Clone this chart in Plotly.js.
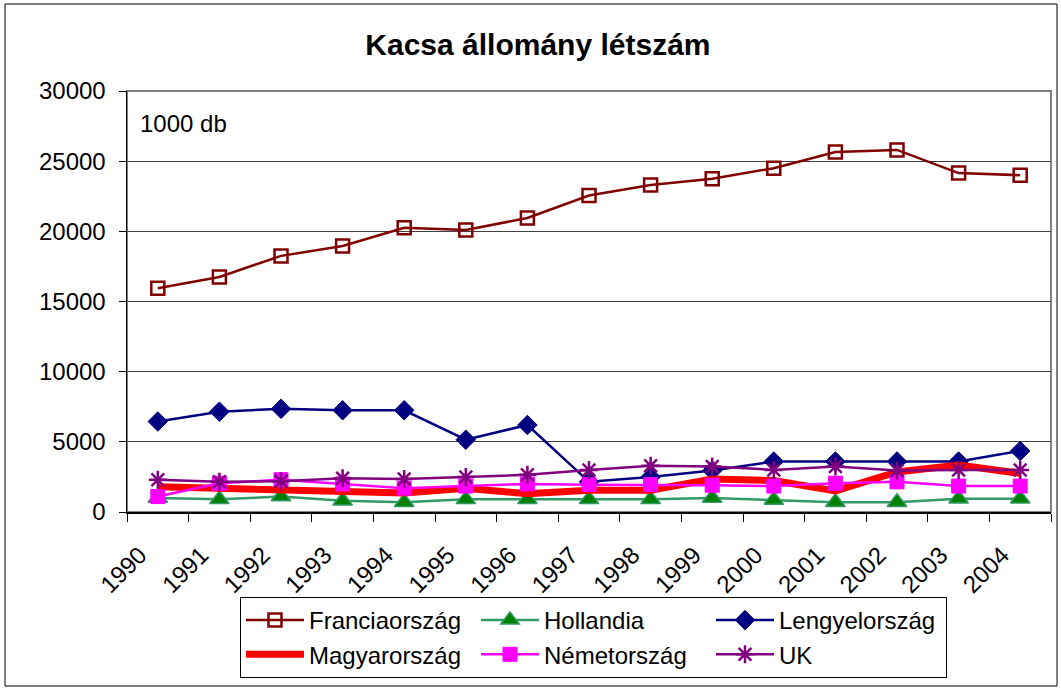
<!DOCTYPE html>
<html>
<head>
<meta charset="utf-8">
<script src="https://cdn.plot.ly/plotly-3.0.1.min.js"></script>
<style>html,body{margin:0;padding:0;background:#fff;}#chart{width:1061px;height:688px;}</style>
</head>
<body>
<div id="chart"></div>
<script>
const years = ['1990','1991','1992','1993','1994','1995','1996','1997','1998','1999','2000','2001','2002','2003','2004'];
const franciaorszag = [15950,16750,18250,18950,20250,20100,20950,22550,23300,23750,24500,25650,25800,24150,24000];
const hollandia     = [1000,900,1100,800,700,900,900,900,900,1000,850,700,700,950,950];
const lengyelorszag = [6450,7150,7350,7250,7250,5150,6200,2150,2500,2950,3600,3600,3600,3600,4350];
const magyarorszag  = [1800,1700,1550,1400,1350,1700,1300,1550,1550,2350,2250,1500,2850,3350,2750];
const nemetorszag   = [1100,2050,2300,2000,1700,1850,2000,1950,1950,1900,1850,2050,2150,1850,1850];
const uk            = [2300,2150,2200,2400,2350,2500,2650,3000,3300,3250,3000,3250,2950,3000,3000];
const yTicks = [0,5000,10000,15000,20000,25000,30000];

const F = 'Arial, "Liberation Sans", sans-serif';

const traces = [
  {name:'Franciaország', x:years, y:franciaorszag, type:'scatter', mode:'lines+markers',
   line:{color:'#800000', width:2.5},
   marker:{symbol:'square-open', size:13, color:'#800000', line:{color:'#800000', width:2.5}}},
  {name:'Hollandia', x:years, y:hollandia, type:'scatter', mode:'lines+markers',
   line:{color:'#339966', width:2.5},
   marker:{symbol:'triangle-up', size:17, color:'#008000', line:{color:'#339966', width:1.5}}},
  {name:'Lengyelország', x:years, y:lengyelorszag, type:'scatter', mode:'lines+markers',
   line:{color:'#000080', width:2.5},
   marker:{symbol:'diamond', size:15, color:'#000080', line:{color:'#000080', width:1}}},
  {name:'Magyarország', x:years, y:magyarorszag, type:'scatter', mode:'lines',
   line:{color:'#FF0000', width:7}},
  {name:'Németország', x:years, y:nemetorszag, type:'scatter', mode:'lines+markers',
   line:{color:'#FF00FF', width:2.5},
   marker:{symbol:'square', size:14, color:'#FF00FF', line:{color:'#FF00FF', width:1}}},
  {name:'UK', x:years, y:uk, type:'scatter', mode:'lines+markers',
   line:{color:'#800080', width:2.5},
   marker:{symbol:'asterisk-open', size:15, color:'#800080', line:{color:'#800080', width:2.5}}}
];

const layout = {
  width:1061, height:688,
  margin:{l:127, r:10, t:91, b:176},
  paper_bgcolor:'#ffffff', plot_bgcolor:'#ffffff',
  font:{family:F, size:24, color:'#000'},
  showlegend:true,
  title:{text:'<b>Kacsa állomány létszám</b>', font:{family:F, size:30, color:'#000'},
         x:0.507, xref:'container', xanchor:'center', y:1-44/688, yref:'container', yanchor:'middle'},
  xaxis:{type:'category', categoryorder:'array', categoryarray:years, range:[-0.5,14.5],
         tickson:'boundaries', ticks:'outside', ticklen:8, tickcolor:'#000', tickwidth:1,
         showline:true, linecolor:'#000', linewidth:1.5, showgrid:false, zeroline:false,
         tickangle:-45, ticklabelshift:-18, ticklabelstandoff:18,
         tickfont:{family:F, size:24, color:'#000'}, fixedrange:true},
  yaxis:{range:[0,30000], tickmode:'array', tickvals:yTicks, ticktext:yTicks.map(String),
         ticks:'outside', ticklen:7, tickcolor:'#000', showline:true, linecolor:'#000', linewidth:1.5,
         ticklabelstandoff:8,
         showgrid:true, gridcolor:'#404040', gridwidth:1, zeroline:false,
         tickfont:{family:F, size:24, color:'#000'}, fixedrange:true},
  legend:{orientation:'h', x:(240-127)/924, xanchor:'left', y:(512-597)/421, yanchor:'top',
          bordercolor:'#000', borderwidth:1, bgcolor:'#fff', itemwidth:58, entrywidth:162, entrywidthmode:'pixels',
          font:{family:F, size:24, color:'#000'}, traceorder:'normal'},
  annotations:[{text:'1000 db', xref:'paper', yref:'paper', x:(138-127)/924, y:(512-123)/421,
                xanchor:'left', yanchor:'middle', showarrow:false, font:{family:F, size:24, color:'#000'}}],
  shapes:[
    {type:'rect', xref:'paper', yref:'paper', x0:0, x1:1, y0:0, y1:1, line:{color:'#808080', width:2}, layer:'below'},
    {type:'rect', xref:'paper', yref:'paper', x0:(5-127)/924, x1:(1057-127)/924, y0:(512-686)/421, y1:(512-4)/421,
     line:{color:'#000', width:1}, layer:'below'}
  ]
};

Plotly.newPlot('chart', traces, layout, {displayModeBar:false, staticPlot:true});
</script>
</body>
</html>
